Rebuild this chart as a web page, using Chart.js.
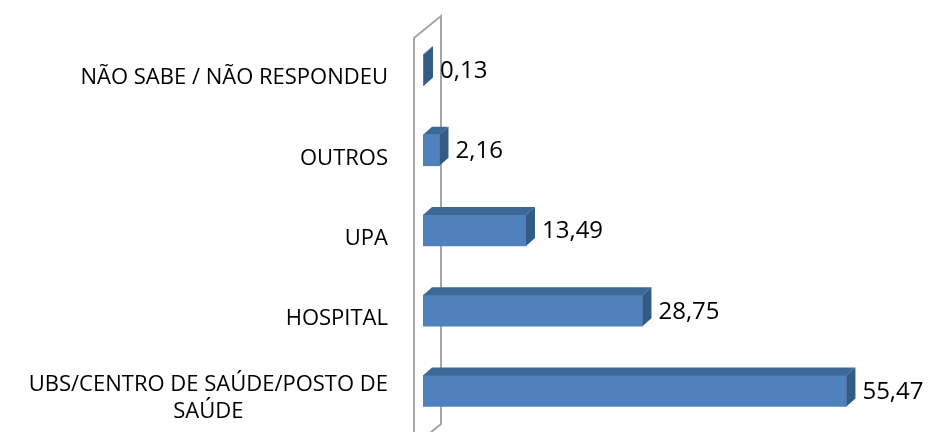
<!DOCTYPE html>
<html>
<head>
<meta charset="utf-8">
<script src="https://cdn.jsdelivr.net/npm/chart.js@4"></script>
<style>
  html, body { margin: 0; padding: 0; background: #ffffff; }
  #wrap { width: 935px; height: 432px; position: relative; }
</style>
</head>
<body>
<div id="wrap"><canvas id="chart"></canvas></div>
<script>
const categories = [
  "NÃO SABE / NÃO RESPONDEU",
  "OUTROS",
  "UPA",
  "HOSPITAL",
  ["UBS/CENTRO DE SAÚDE/POSTO DE", "SAÚDE"]
];
const values = [0.13, 2.16, 13.49, 28.75, 55.47];
const valueLabels = ["0,13", "2,16", "13,49", "28,75", "55,47"];

const FONT = "'Open Sans', 'Liberation Sans', sans-serif";
const DX = 9, DY = 8;

// back wall, 3D faces of the bars, category and value labels
const threeD = {
  id: "threeD",
  beforeDatasetsDraw(chart) {
    const ctx = chart.ctx;
    const area = chart.chartArea;
    const x0 = area.left - 9;
    ctx.save();
    ctx.strokeStyle = "#a6a6a6";
    ctx.lineWidth = 2;
    ctx.beginPath();
    ctx.moveTo(x0, 434);
    ctx.lineTo(x0, 38);
    ctx.lineTo(x0 + 27, 16);
    ctx.lineTo(x0 + 27, 424);
    ctx.lineTo(x0, 446);
    ctx.stroke();
    ctx.restore();
  },
  afterDatasetsDraw(chart) {
    const ctx = chart.ctx;
    const meta = chart.getDatasetMeta(0);
    const yScale = chart.scales.y;
    ctx.save();
    meta.data.forEach((bar, i) => {
      const left = bar.base, right = bar.x;
      const top = bar.y - bar.height / 2, bottom = bar.y + bar.height / 2;
      // top face
      ctx.fillStyle = "#3e6896";
      ctx.beginPath();
      ctx.moveTo(left, top);
      ctx.lineTo(left + DX, top - DY);
      ctx.lineTo(right + DX, top - DY);
      ctx.lineTo(right, top);
      ctx.closePath();
      ctx.fill();
      // side face
      ctx.fillStyle = "#345a86";
      ctx.beginPath();
      ctx.moveTo(right, top);
      ctx.lineTo(right + DX, top - DY);
      ctx.lineTo(right + DX, bottom - DY);
      ctx.lineTo(right, bottom);
      ctx.closePath();
      ctx.fill();
      // value label
      ctx.fillStyle = "#000000";
      ctx.font = "24px " + FONT;
      ctx.textAlign = "left";
      ctx.textBaseline = "middle";
      ctx.fillText(valueLabels[i], right + DX + 7, bar.y + 1);
    });

    // category labels, multi-line ones centred on each other
    ctx.font = "22px " + FONT;
    ctx.fillStyle = "#000000";
    ctx.textBaseline = "middle";
    const labelRight = 388;
    categories.forEach((cat, i) => {
      const yc = yScale.getPixelForValue(i) + 8;
      if (Array.isArray(cat)) {
        const w = Math.max(...cat.map(s => ctx.measureText(s).width));
        const cx = labelRight - w / 2;
        const lh = 27;
        const y0 = yc - 1 - (cat.length - 1) * lh / 2;
        ctx.textAlign = "center";
        cat.forEach((line, j) => ctx.fillText(line, cx, y0 + j * lh));
      } else {
        ctx.textAlign = "right";
        ctx.fillText(cat, labelRight, yc);
      }
    });
    ctx.restore();
  }
};

const ctx = document.getElementById("chart").getContext("2d");
new Chart(ctx, {
  type: "bar",
  data: {
    labels: categories,
    datasets: [{
      data: values,
      backgroundColor: "#4f81bd",
      borderWidth: 0,
      barThickness: 31
    }]
  },
  options: {
    indexAxis: "y",
    responsive: true,
    maintainAspectRatio: false,
    animation: false,
    layout: { padding: { top: 30, bottom: 1, right: 54, left: 0 } },
    plugins: {
      legend: { display: false },
      tooltip: { enabled: false }
    },
    scales: {
      x: {
        display: false,
        min: 0,
        max: 60
      },
      y: {
        grid: { display: false },
        border: { display: false },
        ticks: { display: false },
        afterFit(scale) {
          scale.width = 423;
          scale.paddingTop = 0;
          scale.paddingBottom = 0;
        }
      }
    }
  },
  plugins: [threeD]
});
</script>
</body>
</html>
